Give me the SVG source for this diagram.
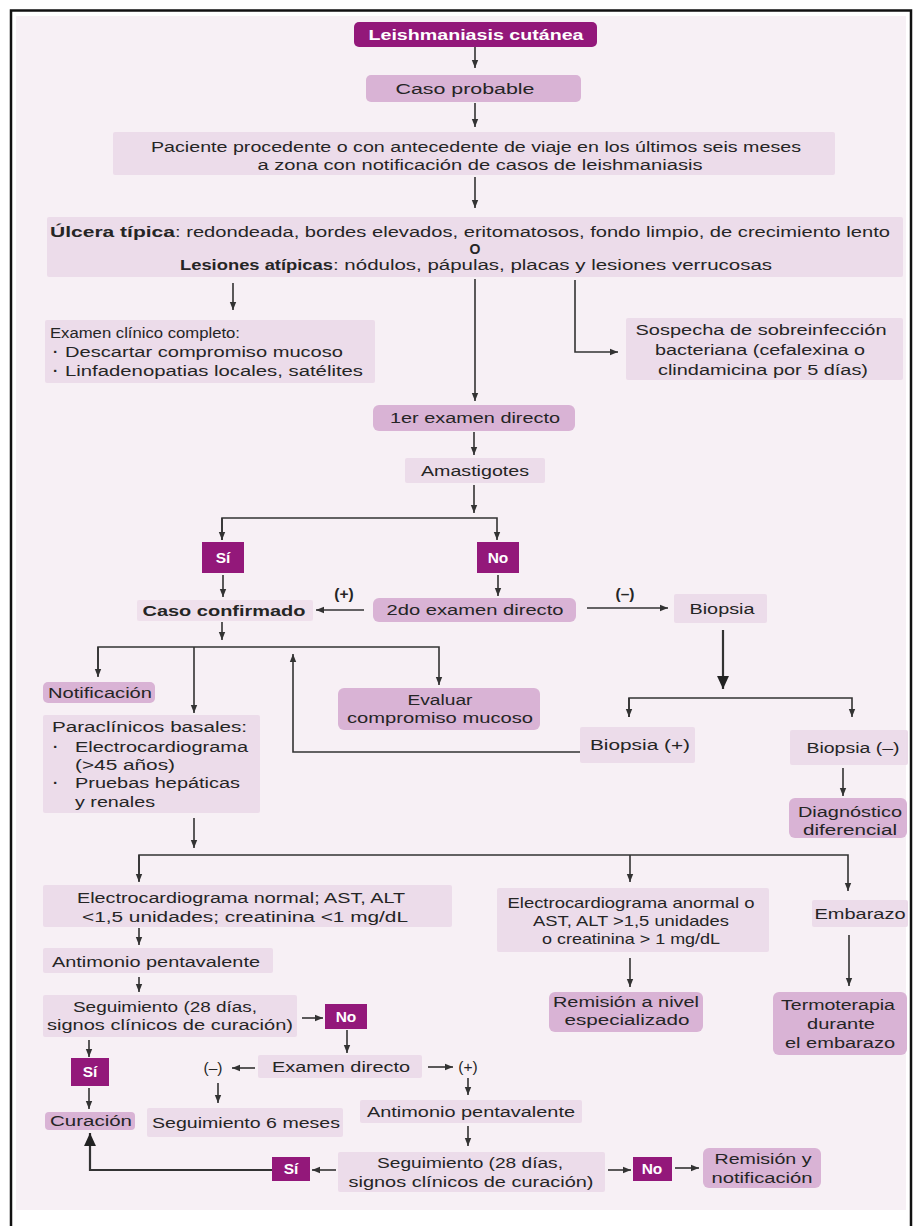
<svg xmlns="http://www.w3.org/2000/svg" width="921" height="1226" viewBox="0 0 921 1226">
<defs>
<style>
.dk{fill:#93187a}
.md{fill:#d9b3d5}
.lt{fill:#ecdcea}
.t{font-family:"Liberation Sans",Arial,Helvetica,sans-serif;font-size:15.5px;fill:#252525}
.s{font-size:14.5px}
.b{font-weight:bold}
.w{fill:#ffffff;font-weight:bold}
.c path{stroke:#333;stroke-width:1.6;fill:none}
.c .k{stroke-width:2.2}
</style>
<marker id="a" markerUnits="userSpaceOnUse" markerWidth="8" markerHeight="8" viewBox="0 0 8 8" refX="8" refY="4" orient="auto"><path d="M0,0.8 L8,4 L0,7.2 z" fill="#333"/></marker>
<marker id="g" markerUnits="userSpaceOnUse" markerWidth="13" markerHeight="13" viewBox="0 0 12 12" refX="12" refY="6" orient="auto"><path d="M0,0.5 L12,6 L0,11.5 z" fill="#222"/></marker>
</defs>
<rect x="0" y="0" width="921" height="1226" fill="#ffffff"/>
<rect x="16" y="16" width="890" height="1194" fill="#f7f0f5"/>
<path d="M11,1226 V10.5 H911 V1226" fill="none" stroke="#111" stroke-width="2.5"/>

<g class="c">
<path d="M475,47 V68" marker-end="url(#a)"/>
<path d="M475,103 V127" marker-end="url(#a)"/>
<path d="M475,177 V208" marker-end="url(#a)"/>
<path d="M233,283 V310" marker-end="url(#a)"/>
<path d="M475,279 V401" marker-end="url(#a)"/>
<path d="M575,280 V352 H618" marker-end="url(#a)"/>
<path d="M474,432 V455" marker-end="url(#a)"/>
<path d="M474,485 V513" marker-end="url(#a)"/>
<path d="M222,540 V518 H497 V540" marker-end="url(#a)"/>
<path d="M222,518 V540" marker-end="url(#a)"/>
<path d="M223,575 V597" marker-end="url(#a)"/>
<path d="M498,575 V596" marker-end="url(#a)"/>
<path d="M364,610 H316" marker-end="url(#a)"/>
<path d="M587,608 H668" marker-end="url(#a)"/>
<path class="k" d="M723,630 V689" marker-end="url(#g)"/>
<path d="M629,717 V698 H852 V717" marker-end="url(#a)"/>
<path d="M629,698 V717" marker-end="url(#a)"/>
<path d="M222,622 V640" marker-end="url(#a)"/>
<path d="M98,676 V647 H439 V685" marker-end="url(#a)"/>
<path d="M98,647 V677" marker-end="url(#a)"/>
<path d="M194,647 V713" marker-end="url(#a)"/>
<path d="M580,752 H293 V654" marker-end="url(#a)"/>
<path d="M843,768 V796" marker-end="url(#a)"/>
<path d="M194,818 V848" marker-end="url(#a)"/>
<path d="M139,881 V855 H848 V891" marker-end="url(#a)"/>
<path d="M139,855 V882" marker-end="url(#a)"/>
<path d="M630,855 V882" marker-end="url(#a)"/>
<path d="M630,958 V987" marker-end="url(#a)"/>
<path d="M849,935 V986" marker-end="url(#a)"/>
<path d="M139,928 V945" marker-end="url(#a)"/>
<path d="M139,977 V992" marker-end="url(#a)"/>
<path d="M302,1018 H323" marker-end="url(#a)"/>
<path d="M347,1030 V1053" marker-end="url(#a)"/>
<path d="M255,1068 H232" marker-end="url(#a)"/>
<path d="M428,1067 H453" marker-end="url(#a)"/>
<path d="M218,1083 V1103" marker-end="url(#a)"/>
<path d="M468,1078 V1095" marker-end="url(#a)"/>
<path d="M468,1126 V1146" marker-end="url(#a)"/>
<path d="M336,1170 H312" marker-end="url(#a)"/>
<path class="k" d="M272,1170 H90 V1133" marker-end="url(#g)"/>
<path d="M608,1170 H631" marker-end="url(#a)"/>
<path d="M675,1168 H699" marker-end="url(#a)"/>
<path d="M89,1040 V1057" marker-end="url(#a)"/>
<path d="M89,1088 V1109" marker-end="url(#a)"/>
<text class="t b" x="344" y="599" text-anchor="middle">(+)</text>
<text class="t b" x="625" y="599" text-anchor="middle">(–)</text>
<text class="t" x="213" y="1073" text-anchor="middle">(–)</text>
<text class="t" x="468" y="1072" text-anchor="middle">(+)</text>
</g>

<g id="n1"><rect class="dk" x="354" y="22" width="243" height="25" rx="5"/><text class="t w" x="476" y="40" text-anchor="middle" textLength="215" lengthAdjust="spacingAndGlyphs">Leishmaniasis cutánea</text></g>
<g id="n2"><rect class="md" x="366" y="75" width="215" height="27" rx="5"/><text class="t" x="465" y="94" text-anchor="middle" textLength="139" lengthAdjust="spacingAndGlyphs">Caso probable</text></g>
<g id="n3"><rect class="lt" x="113" y="132" width="722" height="43" rx="2"/>
<text class="t" x="476" y="152" text-anchor="middle" textLength="650" lengthAdjust="spacingAndGlyphs">Paciente procedente o con antecedente de viaje en los últimos seis meses</text>
<text class="t" x="480" y="170" text-anchor="middle" textLength="445" lengthAdjust="spacingAndGlyphs">a zona con notificación de casos de leishmaniasis</text></g>
<g id="n4"><rect class="lt" x="47" y="217" width="856" height="60" rx="2"/>
<text class="t b" x="50" y="237" textLength="125" lengthAdjust="spacingAndGlyphs">Úlcera típica</text>
<text class="t" x="175" y="237" textLength="715" lengthAdjust="spacingAndGlyphs">: redondeada, bordes elevados, eritomatosos, fondo limpio, de crecimiento lento</text>
<text class="t b" x="475" y="254" text-anchor="middle" style="font-size:14px">O</text>
<text class="t b" x="180" y="270" textLength="153" lengthAdjust="spacingAndGlyphs">Lesiones atípicas</text>
<text class="t" x="333" y="270" textLength="439" lengthAdjust="spacingAndGlyphs">: nódulos, pápulas, placas y lesiones verrucosas</text></g>
<g id="n5"><rect class="lt" x="45" y="320" width="330" height="63" rx="2"/>
<text class="t" x="50" y="338" textLength="190" lengthAdjust="spacingAndGlyphs">Examen clínico completo:</text>
<text class="t b" x="53" y="357">·</text><text class="t" x="65" y="357" textLength="278" lengthAdjust="spacingAndGlyphs">Descartar compromiso mucoso</text>
<text class="t b" x="53" y="376">·</text><text class="t" x="65" y="376" textLength="298" lengthAdjust="spacingAndGlyphs">Linfadenopatias locales, satélites</text></g>
<g id="n6"><rect class="lt" x="626" y="318" width="277" height="62" rx="2"/>
<text class="t" x="761" y="335" text-anchor="middle" textLength="251" lengthAdjust="spacingAndGlyphs">Sospecha de sobreinfección</text>
<text class="t" x="760" y="355" text-anchor="middle" textLength="210" lengthAdjust="spacingAndGlyphs">bacteriana (cefalexina o</text>
<text class="t" x="763" y="375" text-anchor="middle" textLength="210" lengthAdjust="spacingAndGlyphs">clindamicina por 5 días)</text></g>
<g id="n7"><rect class="md" x="373" y="405" width="202" height="26" rx="6"/><text class="t" x="475" y="423" text-anchor="middle" textLength="170" lengthAdjust="spacingAndGlyphs">1er examen directo</text></g>
<g id="n8"><rect class="lt" x="405" y="458" width="140" height="25" rx="2"/><text class="t" x="475" y="476" text-anchor="middle" textLength="108" lengthAdjust="spacingAndGlyphs">Amastigotes</text></g>
<g id="n9"><rect class="dk" x="202" y="542" width="42" height="31"/><text class="t w" x="223" y="563" text-anchor="middle">Sí</text></g>
<g id="n10"><rect class="dk" x="477" y="542" width="42" height="31"/><text class="t w" x="498" y="563" text-anchor="middle">No</text></g>
<g id="n11"><rect class="lt" x="137" y="600" width="176" height="21" rx="2" opacity="0.8"/><text class="t b" x="224" y="616" text-anchor="middle" textLength="163" lengthAdjust="spacingAndGlyphs">Caso confirmado</text></g>
<g id="n12"><rect class="md" x="373" y="598" width="203" height="24" rx="6"/><text class="t" x="475" y="615" text-anchor="middle" textLength="177" lengthAdjust="spacingAndGlyphs">2do examen directo</text></g>
<g id="n13"><rect class="lt" x="674" y="594" width="93" height="29" rx="2"/><text class="t" x="722" y="614" text-anchor="middle" textLength="65" lengthAdjust="spacingAndGlyphs">Biopsia</text></g>
<g id="n14"><rect class="md" x="43" y="682" width="112" height="21" rx="5"/><text class="t" x="100" y="698" text-anchor="middle" textLength="104" lengthAdjust="spacingAndGlyphs">Notificación</text></g>
<g id="n15"><rect class="lt" x="43" y="715" width="217" height="98" rx="2"/>
<text class="t" x="52" y="732" textLength="195" lengthAdjust="spacingAndGlyphs">Paraclínicos basales:</text>
<text class="t b" x="53" y="752">·</text><text class="t" x="75" y="752" textLength="173" lengthAdjust="spacingAndGlyphs">Electrocardiograma</text>
<text class="t" x="75" y="770" textLength="100" lengthAdjust="spacingAndGlyphs">(&gt;45 años)</text>
<text class="t b" x="53" y="788">·</text><text class="t" x="75" y="788" textLength="165" lengthAdjust="spacingAndGlyphs">Pruebas hepáticas</text>
<text class="t" x="75" y="807" textLength="80" lengthAdjust="spacingAndGlyphs">y renales</text></g>
<g id="n16"><rect class="md" x="338" y="688" width="202" height="42" rx="6"/>
<text class="t" x="440" y="705" text-anchor="middle" textLength="65" lengthAdjust="spacingAndGlyphs">Evaluar</text>
<text class="t" x="440" y="723" text-anchor="middle" textLength="186" lengthAdjust="spacingAndGlyphs">compromiso mucoso</text></g>
<g id="n17"><rect class="lt" x="580" y="727" width="115" height="36" rx="2"/><text class="t" x="640" y="750" text-anchor="middle" textLength="100" lengthAdjust="spacingAndGlyphs">Biopsia (+)</text></g>
<g id="n18"><rect class="lt" x="790" y="730" width="118" height="35" rx="2"/><text class="t" x="853" y="753" text-anchor="middle" textLength="93" lengthAdjust="spacingAndGlyphs">Biopsia (–)</text></g>
<g id="n19"><rect class="md" x="789" y="798" width="118" height="40" rx="6"/>
<text class="t" x="850" y="817" text-anchor="middle" textLength="104" lengthAdjust="spacingAndGlyphs">Diagnóstico</text>
<text class="t" x="850" y="835" text-anchor="middle" textLength="94" lengthAdjust="spacingAndGlyphs">diferencial</text></g>
<g id="n20"><rect class="lt" x="43" y="885" width="409" height="42" rx="2"/>
<text class="t" x="241" y="903" text-anchor="middle" textLength="328" lengthAdjust="spacingAndGlyphs">Electrocardiograma normal; AST, ALT</text>
<text class="t" x="245" y="922" text-anchor="middle" textLength="326" lengthAdjust="spacingAndGlyphs">&lt;1,5 unidades; creatinina &lt;1 mg/dL</text></g>
<g id="n21"><rect class="lt" x="497" y="888" width="272" height="64" rx="2"/>
<text class="t s" x="631" y="908" text-anchor="middle" textLength="247" lengthAdjust="spacingAndGlyphs">Electrocardiograma anormal o</text>
<text class="t s" x="631" y="926" text-anchor="middle" textLength="196" lengthAdjust="spacingAndGlyphs">AST, ALT &gt;1,5 unidades</text>
<text class="t s" x="631" y="944" text-anchor="middle" textLength="178" lengthAdjust="spacingAndGlyphs">o creatinina &gt; 1 mg/dL</text></g>
<g id="n22"><rect class="lt" x="812" y="900" width="96" height="27" rx="2"/><text class="t" x="860" y="919" text-anchor="middle" textLength="91" lengthAdjust="spacingAndGlyphs">Embarazo</text></g>
<g id="n23"><rect class="md" x="549" y="992" width="154" height="40" rx="6"/>
<text class="t" x="626" y="1007" text-anchor="middle" textLength="146" lengthAdjust="spacingAndGlyphs">Remisión a nivel</text>
<text class="t" x="627" y="1025" text-anchor="middle" textLength="125" lengthAdjust="spacingAndGlyphs">especializado</text></g>
<g id="n24"><rect class="md" x="773" y="992" width="134" height="63" rx="6"/>
<text class="t" x="838" y="1010" text-anchor="middle" textLength="114" lengthAdjust="spacingAndGlyphs">Termoterapia</text>
<text class="t" x="841" y="1029" text-anchor="middle" textLength="68" lengthAdjust="spacingAndGlyphs">durante</text>
<text class="t" x="840" y="1048" text-anchor="middle" textLength="110" lengthAdjust="spacingAndGlyphs">el embarazo</text></g>
<g id="n25"><rect class="lt" x="43" y="948" width="230" height="25" rx="2"/><text class="t" x="156" y="967" text-anchor="middle" textLength="208" lengthAdjust="spacingAndGlyphs">Antimonio pentavalente</text></g>
<g id="n26"><rect class="lt" x="43" y="995" width="254" height="42" rx="2"/>
<text class="t" x="165" y="1012" text-anchor="middle" textLength="184" lengthAdjust="spacingAndGlyphs">Seguimiento (28 días,</text>
<text class="t" x="170" y="1030" text-anchor="middle" textLength="246" lengthAdjust="spacingAndGlyphs">signos clínicos de curación)</text></g>
<g id="n27"><rect class="dk" x="325" y="1004" width="42" height="25"/><text class="t w" x="346" y="1022" text-anchor="middle">No</text></g>
<g id="n28"><rect class="lt" x="258" y="1055" width="164" height="23" rx="2"/><text class="t" x="341" y="1072" text-anchor="middle" textLength="138" lengthAdjust="spacingAndGlyphs">Examen directo</text></g>
<g id="n29"><rect class="lt" x="147" y="1108" width="196" height="29" rx="2"/><text class="t" x="246" y="1128" text-anchor="middle" textLength="188" lengthAdjust="spacingAndGlyphs">Seguimiento 6 meses</text></g>
<g id="n30"><rect class="lt" x="360" y="1100" width="222" height="23" rx="2"/><text class="t" x="471" y="1117" text-anchor="middle" textLength="208" lengthAdjust="spacingAndGlyphs">Antimonio pentavalente</text></g>
<g id="n31"><rect class="lt" x="338" y="1152" width="267" height="40" rx="2"/>
<text class="t" x="470" y="1168" text-anchor="middle" textLength="186" lengthAdjust="spacingAndGlyphs">Seguimiento (28 días,</text>
<text class="t" x="471" y="1187" text-anchor="middle" textLength="245" lengthAdjust="spacingAndGlyphs">signos clínicos de curación)</text></g>
<g id="n32"><rect class="dk" x="272" y="1157" width="38" height="24"/><text class="t w" x="291" y="1174" text-anchor="middle">Sí</text></g>
<g id="n33"><rect class="dk" x="633" y="1157" width="39" height="24"/><text class="t w" x="652" y="1174" text-anchor="middle">No</text></g>
<g id="n34"><rect class="md" x="703" y="1148" width="118" height="40" rx="6"/>
<text class="t" x="763" y="1164" text-anchor="middle" textLength="97" lengthAdjust="spacingAndGlyphs">Remisión y</text>
<text class="t" x="762" y="1183" text-anchor="middle" textLength="101" lengthAdjust="spacingAndGlyphs">notificación</text></g>
<g id="n35"><rect class="dk" x="71" y="1058" width="38" height="28"/><text class="t w" x="90" y="1077" text-anchor="middle">Sí</text></g>
<g id="n36"><rect class="md" x="45" y="1112" width="90" height="18" rx="4"/><text class="t" x="91" y="1126" text-anchor="middle" textLength="82" lengthAdjust="spacingAndGlyphs">Curación</text></g>
</svg>
